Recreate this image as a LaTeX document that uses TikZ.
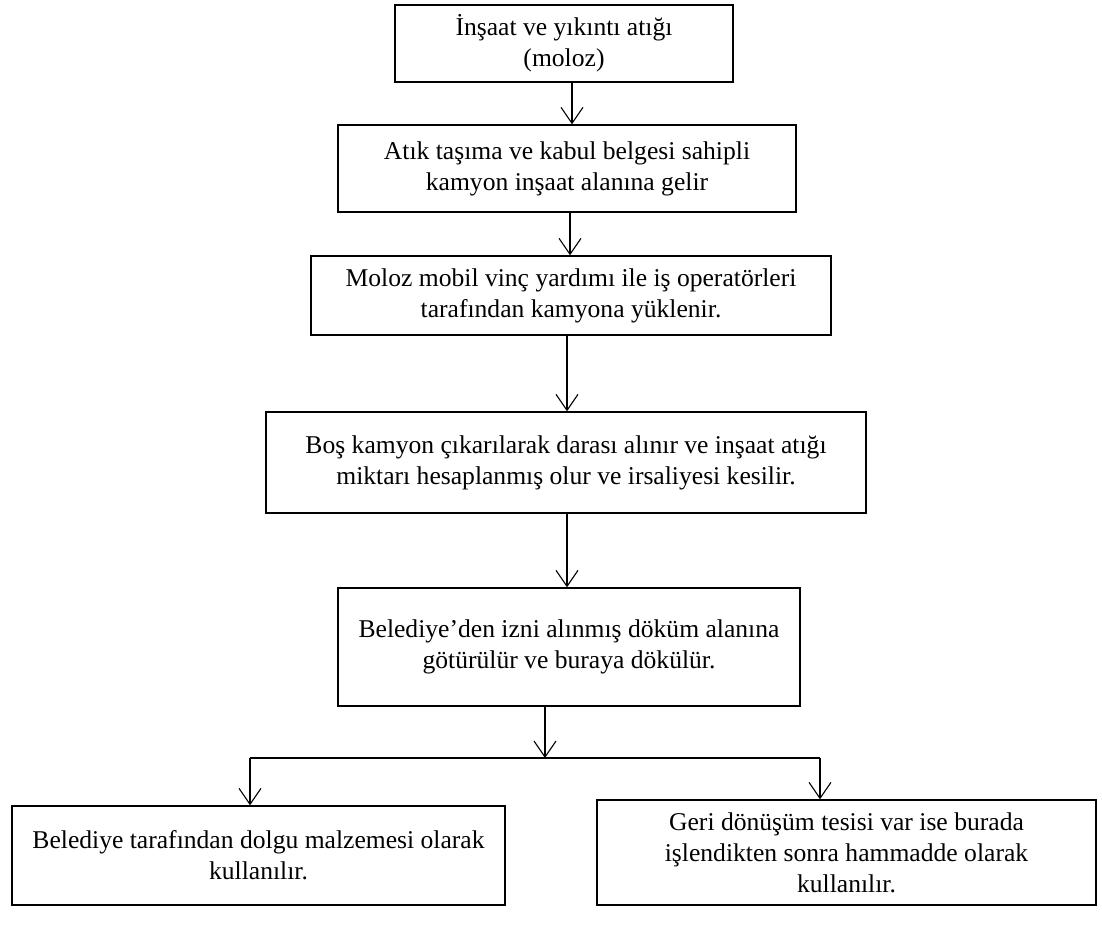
\documentclass[tikz,border=0pt]{standalone}
\usepackage{fontspec}
\setmainfont{Liberation Serif}
\usetikzlibrary{arrows.meta}
\begin{document}
\begin{tikzpicture}[x=1pt,y=1pt,
  box/.style={draw,line width=1.4pt,inner sep=0pt,align=center,font=\fontsize{25.6}{31}\selectfont},
  conn/.style={line width=1.1pt,-{Straight Barb[length=16pt,width=22pt,line width=1.1pt]}},
  plain/.style={line width=1.1pt}]
\useasboundingbox (0,0) rectangle (1102,-932);
\newcommand{\bx}[6]{\node[box,minimum width=#3-#2,minimum height=#5-#4] (#1) at ({(#2+#3)/2},{-(#4+#5)/2}) {#6};}
\bx{b1}{395}{733}{5}{82}{İnşaat ve yıkıntı atığı\\(moloz)}
\bx{b2}{338}{796}{125}{212}{Atık taşıma ve kabul belgesi sahipli\\kamyon inşaat alanına gelir}
\bx{b3}{311}{831}{256}{335}{Moloz mobil vinç yardımı ile iş operatörleri\\tarafından kamyona yüklenir.}
\bx{b4}{266}{866}{412}{513}{Boş kamyon çıkarılarak darası alınır ve inşaat atığı\\miktarı hesaplanmış olur ve irsaliyesi kesilir.}
\bx{b5}{338}{800}{588}{706}{Belediye’den izni alınmış döküm alanına\\götürülür ve buraya dökülür.}
\bx{b6}{12}{505}{806}{905}{Belediye tarafından dolgu malzemesi olarak\\kullanılır.}
\bx{b7}{597}{1096}{800}{905}{Geri dönüşüm tesisi var ise burada\\işlendikten sonra hammadde olarak\\kullanılır.}
\coordinate (jm) at (545,-758);
\coordinate (jl) at (250,-758);
\coordinate (jr) at (820,-758);
\draw[conn] (b1.south -| 572,0) -- (b2.north -| 572,0);
\draw[conn] (b2.south -| 570,0) -- (b3.north -| 570,0);
\draw[conn] (b3.south -| 567,0) -- (b4.north -| 567,0);
\draw[conn] (b4.south -| 567,0) -- (b5.north -| 567,0);
\draw[conn] (b5.south -| jm) -- (jm);
\draw[plain] (jl) -- (jr);
\draw[conn] (jl) -- (b6.north -| jl);
\draw[conn] (jr) -- (b7.north -| jr);
\end{tikzpicture}
\end{document}
